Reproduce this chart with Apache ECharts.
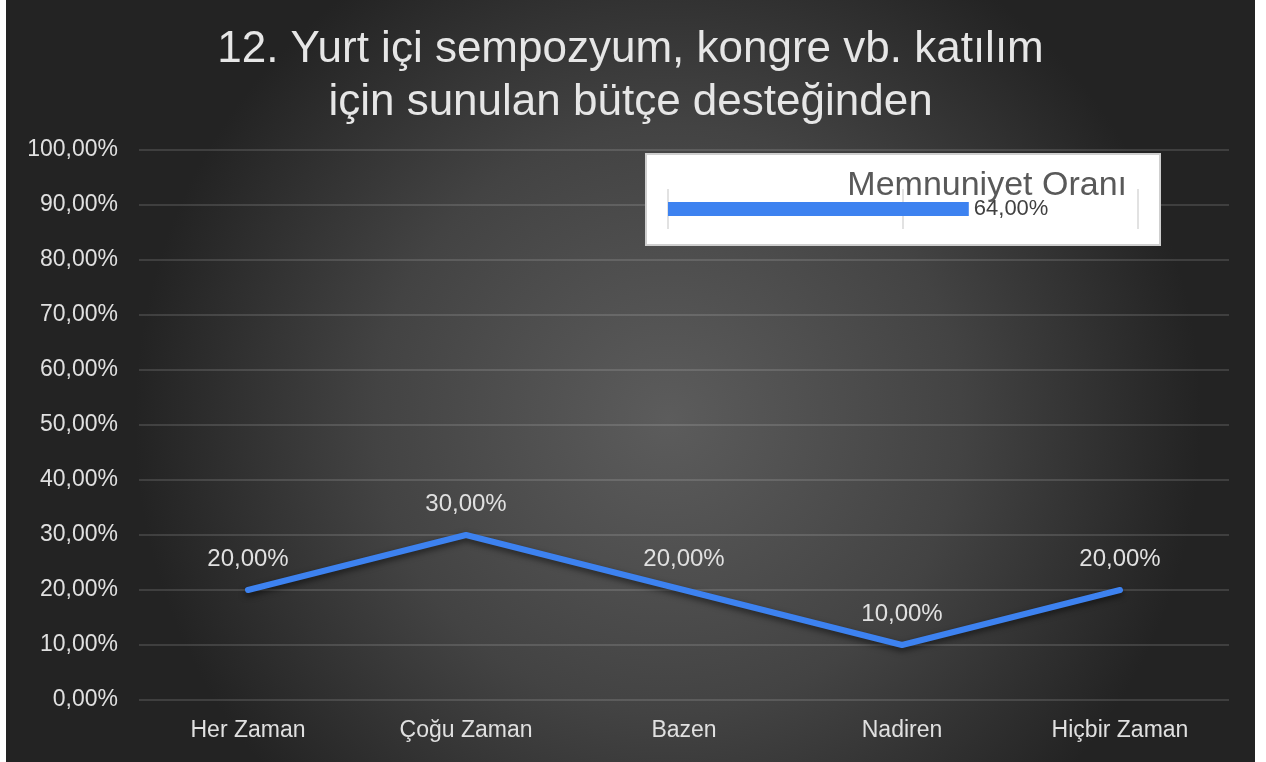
<!DOCTYPE html>
<html>
<head>
<meta charset="utf-8">
<script src="https://cdn.jsdelivr.net/npm/echarts@6/dist/echarts.min.js"></script>
<style>
* { margin: 0; padding: 0; }
body { background: #fff; width: 1266px; height: 762px; overflow: hidden; }
#chart { position: absolute; left: 6px; top: 0; width: 1249px; height: 762px; }
</style>
</head>
<body>
<div id="chart"></div>
<script>
// kategoriler ve değerler (yüzde)
var categories = ['Her Zaman', 'Çoğu Zaman', 'Bazen', 'Nadiren', 'Hiçbir Zaman']
var values = [20, 30, 20, 10, 20]
var yTicks = [0, 10, 20, 30, 40, 50, 60, 70, 80, 90, 100]
// küçük kutu: memnuniyet oranı
var satisfactionName = ['Memnuniyet Oranı']
var satisfactionValue = [64]

var font = '"Liberation Sans", Arial, sans-serif'
function pct(v) {
  return Number(v).toFixed(2).replace('.', ',') + '%'
}

var chart = echarts.init(document.getElementById('chart'))
chart.setOption({
  backgroundColor: {
    type: 'radial', x: 0.53, y: 0.55, r: 0.7,
    colorStops: [
      { offset: 0, color: '#5c5c5c' },
      { offset: 0.55, color: '#434343' },
      { offset: 1, color: '#232323' }
    ]
  },
  textStyle: { fontFamily: font },
  title: [
    {
      text: '12. Yurt içi sempozyum, kongre vb. katılım\niçin sunulan bütçe desteğinden',
      left: 'center',
      top: 18,
      textStyle: { color: '#e6e6e6', fontSize: 44, fontWeight: 'normal', lineHeight: 53, fontFamily: font }
    },
    {
      text: satisfactionName[0],
      right: 123,
      top: 164,
      textStyle: { color: '#595959', fontSize: 34, fontWeight: 'normal', fontFamily: font }
    }
  ],
  graphic: [
    {
      type: 'rect',
      z: 1,
      shape: { x: 640, y: 154, width: 514, height: 91 },
      style: { fill: '#ffffff', stroke: '#cfcfcf', lineWidth: 2 }
    }
  ],
  grid: [
    { left: 133, right: 26, top: 150, bottom: 62 },
    { left: 662, width: 470, top: 189, height: 40, z: 3 }
  ],
  xAxis: [
    {
      type: 'category',
      gridIndex: 0,
      data: categories,
      axisLine: { show: false },
      axisTick: { show: false },
      axisLabel: { color: '#e0e0e0', fontSize: 23, margin: 19, fontFamily: font }
    },
    {
      type: 'value',
      gridIndex: 1,
      min: 0,
      max: 100,
      interval: 50,
      z: 3,
      axisLine: { show: false },
      axisTick: { show: false },
      axisLabel: { show: false },
      splitLine: { show: true, lineStyle: { color: '#d9d9d9', width: 1.5 } }
    }
  ],
  yAxis: [
    {
      type: 'value',
      gridIndex: 0,
      min: yTicks[0],
      max: yTicks[yTicks.length - 1],
      interval: 10,
      axisLine: { show: false },
      axisTick: { show: false },
      axisLabel: { color: '#e0e0e0', fontSize: 23, margin: 21, formatter: pct, fontFamily: font },
      splitLine: { lineStyle: { color: 'rgba(255,255,255,0.13)', width: 2 } }
    },
    {
      type: 'category',
      gridIndex: 1,
      data: satisfactionName,
      show: false
    }
  ],
  series: [
    {
      type: 'line',
      xAxisIndex: 0,
      yAxisIndex: 0,
      data: values,
      symbol: 'circle',
      symbolSize: 1,
      showSymbol: true,
      itemStyle: { color: 'rgba(63,128,236,0)' },
      lineStyle: {
        color: '#3d82f0',
        width: 6,
        cap: 'round',
        join: 'round',
        shadowColor: 'rgba(0,0,0,0.55)',
        shadowBlur: 6,
        shadowOffsetY: 3
      },
      label: {
        show: true,
        position: 'top',
        distance: 18,
        color: '#e0e0e0',
        fontSize: 24,
        fontFamily: font,
        formatter: function (p) { return pct(p.value) }
      }
    },
    {
      type: 'bar',
      xAxisIndex: 1,
      yAxisIndex: 1,
      data: satisfactionValue,
      barWidth: 14,
      z: 4,
      itemStyle: { color: '#3d82f0' },
      label: {
        show: true,
        position: 'right',
        distance: 5,
        color: '#404040',
        fontSize: 22,
        fontFamily: font,
        formatter: function (p) { return pct(p.value) }
      }
    }
  ]
})
</script>
</body>
</html>
